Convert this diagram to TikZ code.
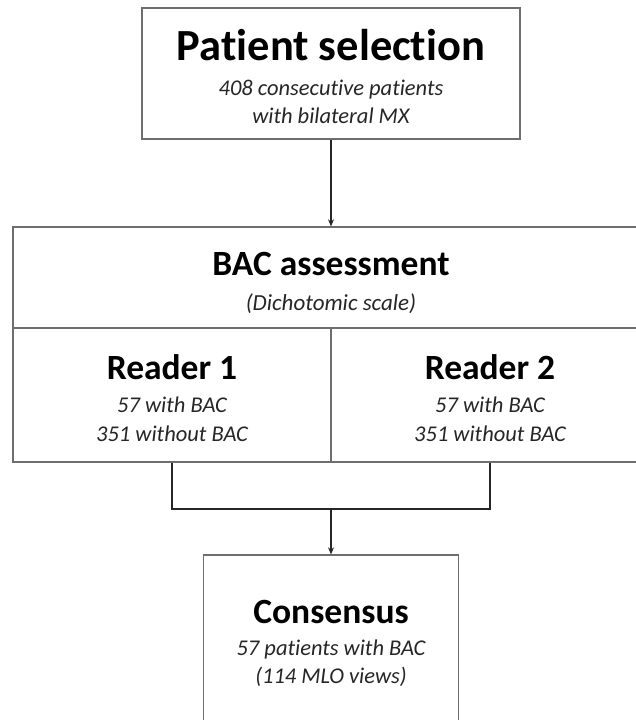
\documentclass[tikz,border=0pt]{standalone}
\usepackage{fontspec}
\setmainfont[Ligatures=NoCommon]{Carlito}
\usetikzlibrary{arrows.meta}
\definecolor{boxgray}{HTML}{6E6E6E}
\definecolor{linegray}{HTML}{262626}
\tikzset{
  x=1pt, y=-1pt,
  box/.style={draw=boxgray, line width=1.3pt, rectangle, inner sep=0pt, fill=white},
  title/.style={anchor=base, inner sep=0pt, font=\fontsize{44.5}{50}\selectfont\bfseries},
  head/.style={anchor=base, inner sep=0pt, font=\fontsize{35.5}{40}\selectfont\bfseries},
  sub/.style={anchor=base, inner sep=0pt, font=\fontsize{22.5}{26}\selectfont\itshape, text=black!85},
  conn/.style={draw=linegray, line width=1.5pt},
  arr/.style={conn, -{Stealth[length=7pt, width=6pt]}}
}
\begin{document}
\begin{tikzpicture}
\useasboundingbox (0,0) rectangle (636,720);
\clip (0,0) rectangle (636,720);
% boxes
\node[box, minimum width=378pt, minimum height=131pt] (ps) at (331,73.5) {};
\node[box, minimum width=636pt, minimum height=101pt] (bac) at (331,277.5) {};
\node[box, minimum width=318pt, minimum height=134pt] (r1) at (172,395) {};
\node[box, minimum width=318pt, minimum height=134pt] (r2) at (490,395) {};
\node[box, minimum width=255pt, minimum height=210pt] (cons) at (331,660) {};
% texts
\node[title] (pst) at (331,60) {Patient selection};
\node[sub] (ps1) at (331,95) {408 consecutive patients};
\node[sub] (ps2) at (331,123) {with bilateral MX};
\node[head] (bact) at (331,275) {BAC assessment};
\node[sub, font=\fontsize{23}{26}\selectfont\itshape] (bac1) at (331,310) {(Dichotomic scale)};
\node[head] (r1t) at (172,379) {Reader 1};
\node[sub] (r1a) at (172,412) {57 with BAC};
\node[sub] (r1b) at (172,441) {351 without BAC};
\node[head] (r2t) at (490,379) {Reader 2};
\node[sub] (r2a) at (490,412) {57 with BAC};
\node[sub] (r2b) at (490,441) {351 without BAC};
\node[head] (ct) at (331,623) {Consensus};
\node[sub] (c1) at (331,655) {57 patients with BAC};
\node[sub] (c2) at (331,683) {(114 MLO views)};
% connectors
\draw[arr] (ps.south) -- (bac.north);
\coordinate (j) at (331,509);
\draw[conn] (r1.south) |- (j) -| (r2.south);
\draw[arr] (j) -- (cons.north);
\end{tikzpicture}
\end{document}
